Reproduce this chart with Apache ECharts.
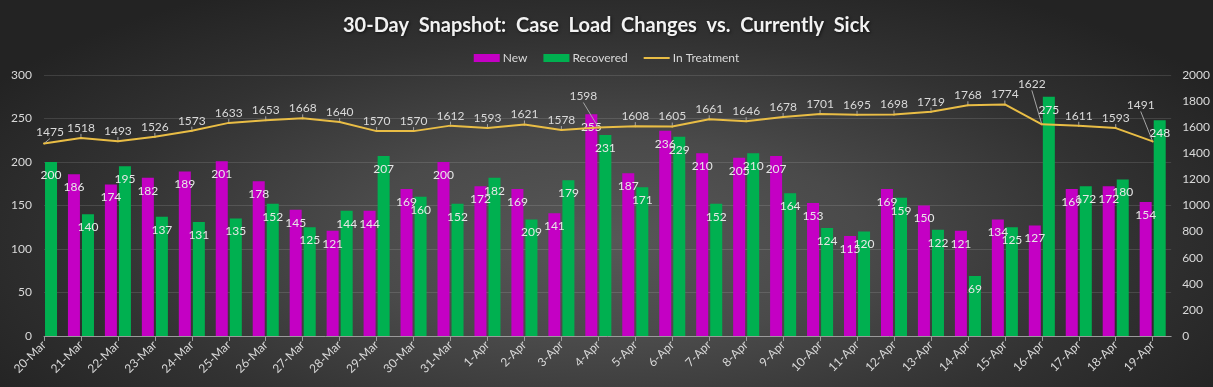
<!DOCTYPE html>
<html>
<head>
<meta charset="utf-8">
<script src="https://cdn.jsdelivr.net/npm/echarts@6/dist/echarts.min.js"></script>
<style>
html,body{margin:0;padding:0;}
#chart{width:1213px;height:387px;background:radial-gradient(ellipse 60% 75% at 50% 62%, #575757 0%, #4a4a4a 35%, #323232 70%, #232323 100%);}
</style>
</head>
<body>
<div id="chart"></div>
<script>
const categories = ['20-Mar','21-Mar','22-Mar','23-Mar','24-Mar','25-Mar','26-Mar','27-Mar','28-Mar','29-Mar','30-Mar','31-Mar','1-Apr','2-Apr','3-Apr','4-Apr','5-Apr','6-Apr','7-Apr','8-Apr','9-Apr','10-Apr','11-Apr','12-Apr','13-Apr','14-Apr','15-Apr','16-Apr','17-Apr','18-Apr','19-Apr'];
// 20-Mar "New" bar lies outside the plot area in the reference (not visible)
const newCases = [null,186,174,182,189,201,178,145,121,144,169,200,172,169,141,255,187,236,210,205,207,153,115,169,150,121,134,127,169,172,154];
const recovered = [200,140,195,137,131,135,152,125,144,207,160,152,182,134,179,231,171,229,152,210,164,124,120,159,122,69,125,275,172,180,248];
const recoveredLabels = ['200','140','195','137','131','135','152','125','144','207','160','152','182','209','179','231','171','229','152','210','164','124','120','159','122','69','125','275','172','180','248'];
const inTreatment = [1475,1518,1493,1526,1573,1633,1653,1668,1640,1570,1570,1612,1593,1621,1578,1598,1608,1605,1661,1646,1678,1701,1695,1698,1719,1768,1774,1622,1611,1593,1491];
const leftTicks = [0,50,100,150,200,250,300];
const rightTicks = [0,200,400,600,800,1000,1200,1400,1600,1800,2000];

const idx = categories.map((c,i)=>i);
const txt = '#d9d9d9';
const font = 'Lato, "Open Sans", sans-serif';
const movedLabels = {'20-Mar':[6,-1],'4-Apr':[-15,-21],'16-Apr':[-10,-30],'19-Apr':[-12,-26]};

const chart = echarts.init(document.getElementById('chart'), null, {renderer:'canvas'});
chart.setOption({
  backgroundColor: 'transparent',
  animation: false,
  textStyle: {fontFamily: font},
  title: {
    text: '30-Day  Snapshot:  Case  Load  Changes  vs.  Currently  Sick',
    left: 'center', top: 11,
    textStyle: {color: '#f2f2f2', fontSize: 20, fontWeight: 'bold', fontFamily: font,
      textShadowColor: 'rgba(0,0,0,0.6)', textShadowBlur: 3, textShadowOffsetX: 1, textShadowOffsetY: 1}
  },
  legend: {
    top: 47, left: 'center', itemWidth: 26, itemHeight: 8, itemGap: 16,
    textStyle: {color: txt, fontSize: 12, padding: [0,0,0,-2]},
    data: [{name:'New', icon:'rect'}, {name:'Recovered', icon:'rect'},
           {name:'In Treatment', icon:'path://M0,0L0,0ZM0,3L26,3L26,5L0,5ZM0,8L0,8Z'}]
  },
  grid: {left: 44, right: 37, top: 75, bottom: 51, containLabel: false},
  xAxis: {
    type: 'value', min: 0, max: 30.5, interval: 1,
    splitLine: {show: false},
    axisLine: {show: true, lineStyle: {color: '#9a9a9a', width: 1}},
    axisTick: {show: true, length: 5, lineStyle: {color: '#9a9a9a'}, customValues: idx},
    axisLabel: {color: txt, fontSize: 12, rotate: 45, margin: 7, customValues: idx,
      formatter: v => categories[Math.round(v)] || ''}
  },
  yAxis: [
    {type: 'value', min: 0, max: 300, interval: 50, position: 'left',
     axisLine: {show: false}, axisTick: {show: false},
     axisLabel: {color: txt, fontSize: 12, margin: 12, formatter: v => String(v)},
     splitLine: {lineStyle: {color: 'rgba(255,255,255,0.12)', width: 1}}},
    {type: 'value', min: 0, max: 2000, interval: 200, position: 'right',
     axisLine: {show: false}, axisTick: {show: false},
     axisLabel: {color: txt, fontSize: 12, margin: 11, formatter: v => String(v)},
     splitLine: {show: false}}
  ],
  series: [
    {name: 'New', type: 'bar', yAxisIndex: 0, barWidth: 12, barGap: '17%',
     itemStyle: {color: '#c400c4'},
     label: {show: true, position: 'insideTop', distance: 7, color: '#e6e6e6', fontSize: 12},
     data: newCases.map((v,i)=>[i,v])},
    {name: 'Recovered', type: 'bar', yAxisIndex: 0, barWidth: 12, barGap: '17%',
     itemStyle: {color: '#00b050'},
     label: {show: true, position: 'insideTop', distance: 7, color: '#e6e6e6', fontSize: 12,
       formatter: p => recoveredLabels[p.dataIndex]},
     data: recovered.map((v,i)=>[i,v])},
    {name: 'In Treatment', type: 'line', yAxisIndex: 1, symbol: 'circle', symbolSize: 2, showSymbol: true,
     lineStyle: {color: '#e9bd45', width: 2}, itemStyle: {color: '#e9bd45'},
     label: {show: true, position: 'top', distance: 3, color: txt, fontSize: 12, formatter: p => String(p.value[1])},
     labelLine: {show: true, lineStyle: {color: '#a6a6a6', width: 1}},
     labelLayout: p => { const m = movedLabels[categories[p.dataIndex]]; return m ? {dx: m[0], dy: m[1]} : {}; },
     z: 5,
     data: inTreatment.map((v,i)=>[i,v])}
  ]
});
</script>
</body>
</html>
